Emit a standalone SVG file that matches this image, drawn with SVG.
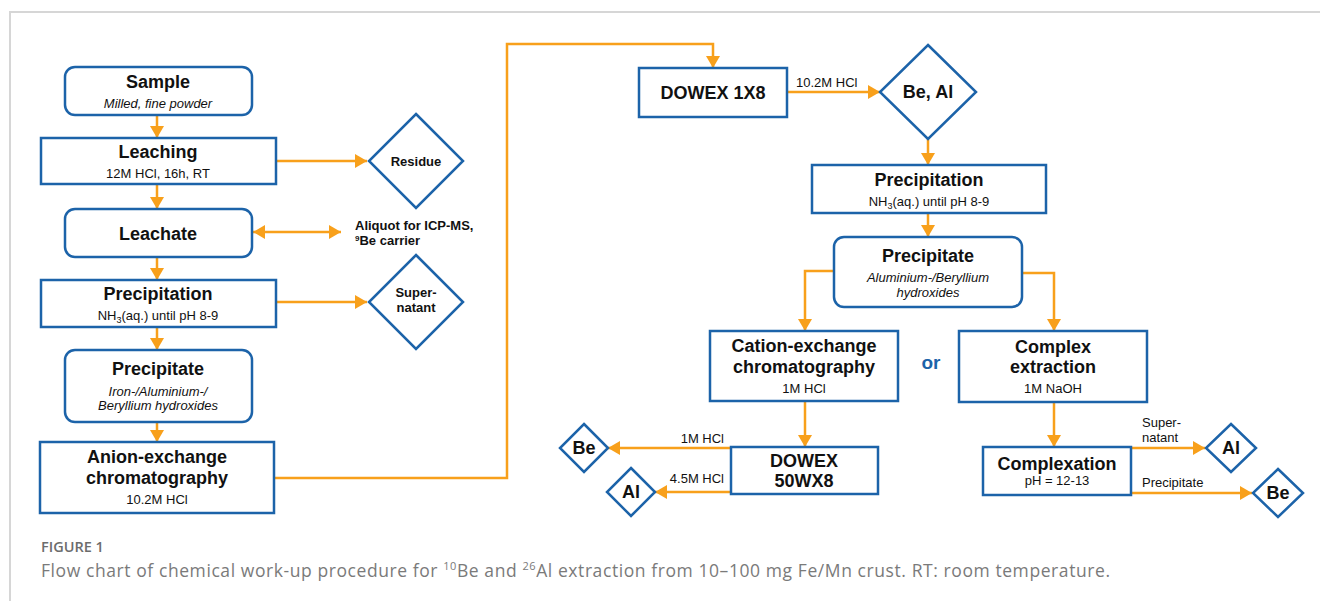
<svg xmlns="http://www.w3.org/2000/svg" width="1320" height="601" viewBox="0 0 1320 601">
<style>
.box{fill:#fff;stroke:#1c63a9;stroke-width:2.5}
.dia{fill:#fff;stroke:#1c63a9;stroke-width:2.5}
.con{fill:none;stroke:#f8a01b;stroke-width:2.5}
.t{font-family:"Liberation Sans",Arial,sans-serif;font-weight:bold;font-size:18px;fill:#111;text-anchor:middle}
.s{font-family:"Liberation Sans",Arial,sans-serif;font-size:13px;fill:#111;text-anchor:middle}
.i{font-family:"Liberation Sans",Arial,sans-serif;font-size:13px;font-style:italic;fill:#111;text-anchor:middle}
.d{font-family:"Liberation Sans",Arial,sans-serif;font-weight:bold;font-size:13px;fill:#111;text-anchor:middle}
.ds{font-family:"Liberation Sans",Arial,sans-serif;font-weight:bold;font-size:13px;fill:#111;text-anchor:start}
.l{font-family:"Liberation Sans",Arial,sans-serif;font-size:13px;fill:#111}
.le{font-family:"Liberation Sans",Arial,sans-serif;font-size:13px;fill:#111;text-anchor:end}
.cap{font-family:"Open Sans",sans-serif}
</style>
<defs>
<marker id="ah" markerUnits="userSpaceOnUse" markerWidth="14" markerHeight="14" refX="12" refY="7" orient="auto-start-reverse">
<path d="M0,0 L12,7 L0,14 z" fill="#f8a01b"/>
</marker>
</defs>
<rect width="1320" height="601" fill="#fff"/>
<path d="M10,601 V12 H1320" fill="none" stroke="#d6d6d6" stroke-width="2"/>

<g id="connectors">
<path class="con" d="M157,115 V138" marker-end="url(#ah)"/>
<path class="con" d="M276,161 H367" marker-end="url(#ah)"/>
<path class="con" d="M157,184 V209" marker-end="url(#ah)"/>
<path class="con" d="M253,232 H341" marker-start="url(#ah)" marker-end="url(#ah)"/>
<path class="con" d="M157,257 V280" marker-end="url(#ah)"/>
<path class="con" d="M276,302 H367" marker-end="url(#ah)"/>
<path class="con" d="M157,327 V350" marker-end="url(#ah)"/>
<path class="con" d="M157,422 V442" marker-end="url(#ah)"/>
<path class="con" d="M274,478 H507 V44 H713 V68" marker-end="url(#ah)"/>
<path class="con" d="M787,92 H880" marker-end="url(#ah)"/>
<text class="l" x="796" y="87">10.2M HCl</text>
<path class="con" d="M928,139 V165" marker-end="url(#ah)"/>
<path class="con" d="M928,213 V237" marker-end="url(#ah)"/>
<path class="con" d="M834,271 H805 V331" marker-end="url(#ah)"/>
<path class="con" d="M1022,273 H1054 V331" marker-end="url(#ah)"/>
<path class="con" d="M805,401 V447" marker-end="url(#ah)"/>
<path class="con" d="M731,448 H608" marker-end="url(#ah)"/>
<text class="le" x="724" y="443">1M HCl</text>
<path class="con" d="M731,492 H655" marker-end="url(#ah)"/>
<text class="le" x="724" y="483">4.5M HCl</text>
<path class="con" d="M1054,402 V447" marker-end="url(#ah)"/>
<path class="con" d="M1131,448 H1205" marker-end="url(#ah)"/>
<text class="l" x="1142" y="427">Super-</text>
<text class="l" x="1142" y="442">natant</text>
<path class="con" d="M1131,493 H1252" marker-end="url(#ah)"/>
<text class="l" x="1142" y="487">Precipitate</text>
</g>

<g id="sample">
<rect class="box" x="65" y="67" width="187" height="48" rx="10"/>
<text class="t" x="158" y="88">Sample</text>
<text class="i" x="158" y="108">Milled, fine powder</text>
</g>
<g id="leaching">
<rect class="box" x="41" y="138" width="235" height="46"/>
<text class="t" x="158" y="158">Leaching</text>
<text class="s" x="158" y="178">12M HCl, 16h, RT</text>
</g>
<g id="residue">
<polygon class="dia" points="416,114 463,161 416,208 369,161"/>
<text class="d" x="416" y="166">Residue</text>
</g>
<g id="leachate">
<rect class="box" x="65" y="209" width="187" height="48" rx="10"/>
<text class="t" x="158" y="240">Leachate</text>
</g>
<g id="aliquot">
<text class="ds" x="355" y="230">Aliquot for ICP-MS,</text>
<text class="ds" x="355" y="245"><tspan font-size="8" dy="-4">9</tspan><tspan dy="4">Be carrier</tspan></text>
</g>
<g id="precipitation1">
<rect class="box" x="41" y="280" width="235" height="47"/>
<text class="t" x="158" y="300">Precipitation</text>
<text class="s" x="158" y="320">NH<tspan font-size="9" dy="3">3</tspan><tspan dy="-3">(aq.) until pH 8-9</tspan></text>
</g>
<g id="supernatant1">
<polygon class="dia" points="416,255 463,302 416,349 369,302"/>
<text class="d" x="416" y="297">Super-</text>
<text class="d" x="416" y="312">natant</text>
</g>
<g id="precipitate1">
<rect class="box" x="65" y="350" width="187" height="72" rx="10"/>
<text class="t" x="158" y="375">Precipitate</text>
<text class="i" x="158" y="396">Iron-/Aluminium-/</text>
<text class="i" x="158" y="410">Beryllium hydroxides</text>
</g>
<g id="anion">
<rect class="box" x="40" y="442" width="234" height="71"/>
<text class="t" x="157" y="463">Anion-exchange</text>
<text class="t" x="157" y="484">chromatography</text>
<text class="s" x="157" y="504">10.2M HCl</text>
</g>
<g id="dowex1x8">
<rect class="box" x="639" y="68" width="148" height="49"/>
<text class="t" x="713" y="99">DOWEX 1X8</text>
</g>
<g id="beal">
<polygon class="dia" points="928,45 976,92 928,139 880,92"/>
<text class="t" x="928" y="98">Be, Al</text>
</g>
<g id="precipitation2">
<rect class="box" x="812" y="165" width="234" height="48"/>
<text class="t" x="929" y="186">Precipitation</text>
<text class="s" x="929" y="206">NH<tspan font-size="9" dy="3">3</tspan><tspan dy="-3">(aq.) until pH 8-9</tspan></text>
</g>
<g id="precipitate2">
<rect class="box" x="834" y="237" width="188" height="70" rx="10"/>
<text class="t" x="928" y="262">Precipitate</text>
<text class="i" x="928" y="282">Aluminium-/Beryllium</text>
<text class="i" x="928" y="297">hydroxides</text>
</g>
<g id="cation">
<rect class="box" x="710" y="331" width="188" height="70"/>
<text class="t" x="804" y="352">Cation-exchange</text>
<text class="t" x="804" y="373">chromatography</text>
<text class="s" x="804" y="393">1M HCl</text>
</g>
<g id="or">
<text class="t" x="931" y="369" style="fill:#1c63a9;font-size:19px">or</text>
</g>
<g id="complex">
<rect class="box" x="959" y="331" width="188" height="71"/>
<text class="t" x="1053" y="353">Complex</text>
<text class="t" x="1053" y="373">extraction</text>
<text class="s" x="1053" y="393">1M NaOH</text>
</g>
<g id="dowex50">
<rect class="box" x="731" y="447" width="147" height="47"/>
<text class="t" x="804" y="467">DOWEX</text>
<text class="t" x="804" y="487">50WX8</text>
</g>
<g id="be1">
<polygon class="dia" points="584,424 608,448 584,472 560,448"/>
<text class="t" x="584" y="454">Be</text>
</g>
<g id="al1">
<polygon class="dia" points="631,468 655,492 631,516 607,492"/>
<text class="t" x="631" y="498">Al</text>
</g>
<g id="complexation">
<rect class="box" x="983" y="447" width="148" height="48"/>
<text class="t" x="1057" y="470">Complexation</text>
<text class="s" x="1057" y="485">pH = 12-13</text>
</g>
<g id="al2">
<polygon class="dia" points="1231,424 1256,448 1231,472 1206,448"/>
<text class="t" x="1231" y="454">Al</text>
</g>
<g id="be2">
<polygon class="dia" points="1278,469 1303,493 1278,517 1253,493"/>
<text class="t" x="1278" y="499">Be</text>
</g>

<g id="caption">
<text class="cap" x="41" y="552" font-size="14.5" font-weight="600" fill="#6c6c6c">FIGURE 1</text>
<text class="cap" x="41" y="577" font-size="17.5" fill="#7a7a7a" textLength="1069" lengthAdjust="spacing">Flow chart of chemical work-up procedure for <tspan font-size="11" dy="-7">10</tspan><tspan dy="7">Be and </tspan><tspan font-size="11" dy="-7">26</tspan><tspan dy="7">Al extraction from 10–100 mg Fe/Mn crust. RT: room temperature.</tspan></text>
</g>
</svg>
